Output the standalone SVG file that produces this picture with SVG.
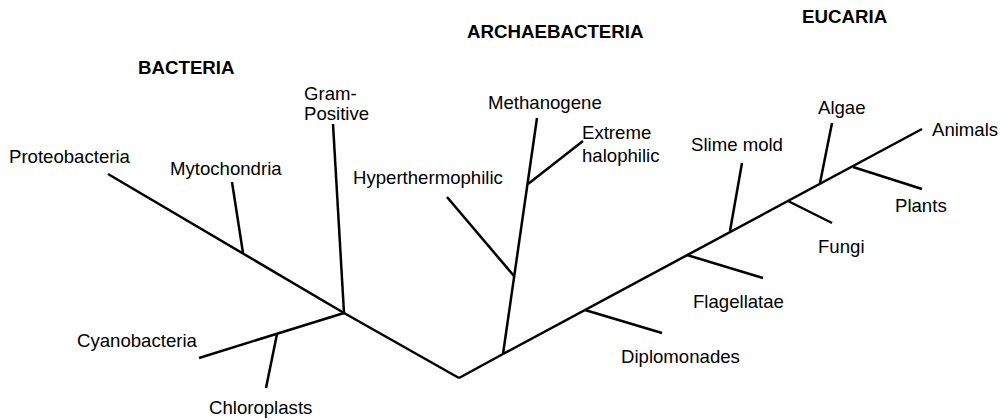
<svg xmlns="http://www.w3.org/2000/svg" width="1005" height="420" viewBox="0 0 1005 420">
<style>
text{font-family:"Liberation Sans",Arial,Helvetica,sans-serif;font-size:18.6px;fill:#000}
.h{font-weight:bold;font-size:18.7px}
line{stroke:#000;stroke-width:2.5;stroke-linecap:butt}
</style>
<rect width="1005" height="420" fill="#fff"/>
<g id="connectors">
<line x1="108" y1="174" x2="344" y2="313"/>
<line x1="232" y1="182" x2="243" y2="253"/>
<line x1="333" y1="124" x2="344" y2="313"/>
<line x1="199" y1="358" x2="344" y2="313"/>
<line x1="266" y1="388" x2="277" y2="334"/>
<line x1="344" y1="313" x2="459" y2="378"/>
<line x1="459" y1="378" x2="503" y2="354"/>
<line x1="503" y1="354" x2="537" y2="118"/>
<line x1="447" y1="197" x2="514" y2="276"/>
<line x1="528" y1="184" x2="583" y2="141"/>
<line x1="503" y1="354" x2="922" y2="129"/>
<line x1="585" y1="310" x2="662" y2="333"/>
<line x1="687" y1="255" x2="763" y2="278"/>
<line x1="742" y1="163" x2="730" y2="231"/>
<line x1="788" y1="201" x2="832" y2="223"/>
<line x1="832" y1="123" x2="820" y2="183"/>
<line x1="853" y1="167" x2="922" y2="189"/>
</g>
<g id="bacteria"><text class="h" x="138" y="74">BACTERIA</text></g>
<g id="archaebacteria"><text class="h" x="467" y="38">ARCHAEBACTERIA</text></g>
<g id="eucaria"><text class="h" x="802" y="23">EUCARIA</text></g>
<g id="proteobacteria"><text x="9" y="163">Proteobacteria</text></g>
<g id="mytochondria"><text x="170" y="175">Mytochondria</text></g>
<g id="gram-positive"><text x="304" y="100">Gram-</text><text x="304" y="120">Positive</text></g>
<g id="cyanobacteria"><text x="77" y="347">Cyanobacteria</text></g>
<g id="chloroplasts"><text x="209" y="414">Chloroplasts</text></g>
<g id="hyperthermophilic"><text x="353" y="184">Hyperthermophilic</text></g>
<g id="methanogene"><text x="488" y="109">Methanogene</text></g>
<g id="extreme-halophilic"><text x="582" y="139">Extreme</text><text x="582" y="162">halophilic</text></g>
<g id="slime-mold"><text x="691" y="151">Slime mold</text></g>
<g id="algae"><text x="818" y="114">Algae</text></g>
<g id="animals"><text x="932" y="136">Animals</text></g>
<g id="plants"><text x="895" y="212">Plants</text></g>
<g id="fungi"><text x="818" y="253">Fungi</text></g>
<g id="flagellatae"><text x="693" y="308">Flagellatae</text></g>
<g id="diplomonades"><text x="621" y="363">Diplomonades</text></g>
</svg>
